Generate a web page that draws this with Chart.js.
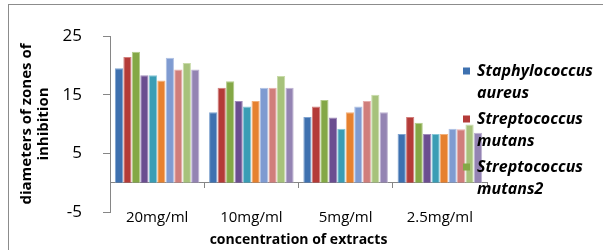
<!DOCTYPE html>
<html>
<head>
<meta charset="utf-8">
<script src="https://cdn.jsdelivr.net/npm/chart.js@4/dist/chart.umd.min.js"></script>
<style>
  html, body { margin: 0; padding: 0; background: #fff; }
  #wrap { position: relative; width: 603px; height: 250px; }
</style>
</head>
<body>
<div id="wrap"><canvas id="myChartZones" width="603" height="250"></canvas></div>
<script>
// concentrations on the x axis
var categories = ['20mg/ml', '10mg/ml', '5mg/ml', '2.5mg/ml'];
var yTicks = [-5, 5, 15, 25];

// zone diameters
var staphylococcusAureus = [19.5, 12.0, 11.2, 8.3];
var streptococcusMutans = [21.4, 16.2, 13.0, 11.2];
var streptococcusMutans2 = [22.3, 17.3, 14.1, 10.2];
var series4 = [18.3, 13.9, 11.1, 8.3];
var series5 = [18.3, 13.0, 9.2, 8.3];
var series6 = [17.4, 13.9, 12.0, 8.3];
var series7 = [21.3, 16.2, 13.0, 9.2];
var series8 = [19.3, 16.2, 13.9, 9.1];
var series9 = [20.4, 18.2, 15.0, 9.9];
var series10 = [19.3, 16.2, 12.0, 8.5];

var seriesNames = ['Staphylococcus aureus', 'Streptococcus mutans', 'Streptococcus mutans2',
    'Series4', 'Series5', 'Series6', 'Series7', 'Series8', 'Series9', 'Series10'];
var seriesData = [staphylococcusAureus, streptococcusMutans, streptococcusMutans2,
    series4, series5, series6, series7, series8, series9, series10];
var colors = ['#3E71B0', '#B43B38', '#84A846', '#6B4E90', '#3A9DB5',
    '#E6812F', '#7F9BD1', '#D07E7B', '#A7C27B', '#9484B3'];
var edges = ['#7FA3CF', '#D27F7C', '#B3CC8A', '#A08BBB', '#86C6D6',
    '#F2B07A', '#AFC1E3', '#E6AEAC', '#C8DBA9', '#BEB3D2'];

var FONT = '"Open Sans", "Liberation Sans", sans-serif';

var frame = {
    id: 'frame',
    beforeDraw: function (chart) {
        var c = chart.ctx;
        c.save();
        c.fillStyle = '#fff';
        c.fillRect(0, 0, chart.width, chart.height);
        c.strokeStyle = '#8c8c8c';
        c.lineWidth = 1;
        c.strokeRect(8.5, 4.5, 700, 300);
        c.restore();
    }
};

// excel-style legend, text wraps onto two lines and sits over the plot
var sideLegend = {
    id: 'sideLegend',
    afterDraw: function (chart) {
        var c = chart.ctx;
        var lines = [['Staphylococcus', 'aureus'], ['Streptococcus', 'mutans'], ['Streptococcus', 'mutans2']];
        c.save();
        c.font = 'italic bold 16px ' + FONT;
        c.textBaseline = 'middle';
        c.textAlign = 'left';
        for (var i = 0; i < lines.length; i++) {
            var y = 71 + i * 48;
            c.fillStyle = colors[i];
            c.fillRect(463, y - 3.5, 7, 7);
            c.fillStyle = '#000';
            c.fillText(lines[i][0], 477, y);
            c.fillText(lines[i][1], 477, y + 22);
        }
        c.restore();
    }
};

var ctx = document.getElementById('myChartZones').getContext('2d');
var myChartZones = new Chart(ctx, {
    type: 'bar',
    data: {
        labels: categories,
        datasets: seriesData.map(function (d, i) {
            return {
                label: seriesNames[i],
                data: d,
                backgroundColor: colors[i],
                borderColor: edges[i],
                borderWidth: 1,
                barPercentage: 0.97,
                categoryPercentage: 0.9
            };
        })
    },
    options: {
        responsive: false,
        animation: false,
        layout: { padding: { left: 14, right: 116, top: 36, bottom: 0 } },
        plugins: {
            legend: { display: false },
            tooltip: { enabled: false }
        },
        scales: {
            x: {
                position: 'bottom',
                grid: { display: false, drawTicks: false },
                border: { display: false },
                ticks: { display: false },
                title: {
                    display: true,
                    text: 'concentration of extracts',
                    color: '#000',
                    padding: { top: 0, bottom: 2 },
                    font: { family: FONT, size: 14, weight: 'bold' }
                },
                afterFit: function (s) { s.height = 38; }
            },
            // axis line crosses at zero, labels hang below near the -5 level
            xZero: {
                axis: 'x',
                type: 'category',
                labels: categories,
                position: { y: 0 },
                grid: { drawOnChartArea: false, offset: true, tickLength: 5, color: '#868686' },
                border: { color: '#868686' },
                ticks: { color: '#000', padding: 21, font: { family: FONT, size: 15 } }
            },
            y: {
                min: -5,
                max: 25,
                grid: { drawOnChartArea: false, tickLength: 7, color: '#868686' },
                border: { color: '#868686' },
                afterBuildTicks: function (s) {
                    s.ticks = yTicks.map(function (v) { return { value: v }; });
                },
                ticks: { color: '#000', padding: 21, font: { family: FONT, size: 17 } },
                title: {
                    display: true,
                    text: ['diameters of zones of', 'inhibition'],
                    color: '#000',
                    font: { family: FONT, size: 15, weight: 'bold', lineHeight: 1.15 }
                },
                afterFit: function (s) { s.width = 96; }
            }
        }
    },
    plugins: [frame, sideLegend]
});
</script>
</body>
</html>
